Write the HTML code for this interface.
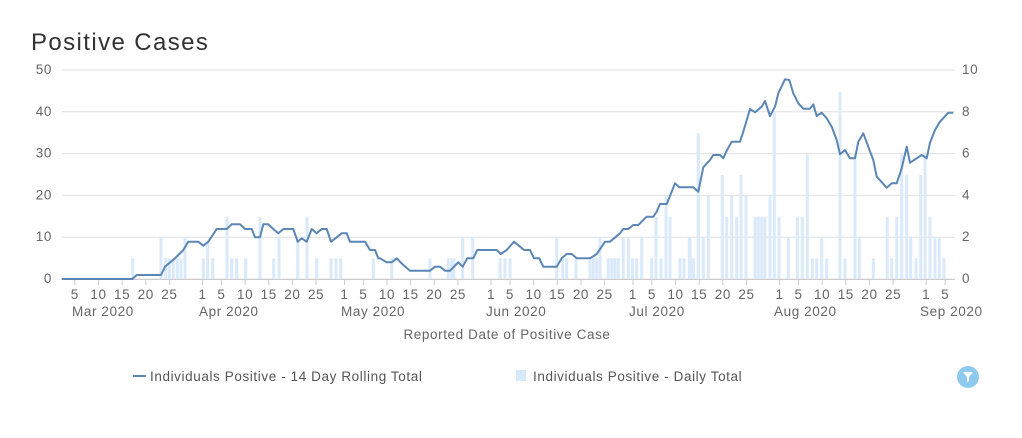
<!DOCTYPE html>
<html><head><meta charset="utf-8"><style>
body{margin:0;background:#fff;width:1022px;height:433px;overflow:hidden;font-family:"Liberation Sans",sans-serif}
svg text{letter-spacing:0.6px}
</style></head><body>
<svg id="s" width="1022" height="433" xmlns="http://www.w3.org/2000/svg" font-family="Liberation Sans, sans-serif">
<text x="31" y="50" font-size="24" fill="#333" style="letter-spacing:1.4px">Positive Cases</text>
</svg>
<script>
const s=document.getElementById('s');let h='';
const X0=62,X1=955;
for(let i=0;i<=5;i++){const y=279-i*41.8;
h+=`<line x1="${X0}" x2="${X1}" y1="${y}" y2="${y}" stroke="#e0e0e0" stroke-width="1"/>`;
h+=`<text x="52" y="${y+4}" font-size="13.5" fill="#666" text-anchor="end">${i*10}</text>`;
h+=`<text x="962" y="${y+4}" font-size="13.5" fill="#666">${i*2}</text>`;}
h+=`<line x1="${X0}" x2="${X1}" y1="279.5" y2="279.5" stroke="#ccc"/>`;
const bars=[[55,60,[[233,595],[318,532],[332,595],[343,595],[355,595],[367,595],[378,595],[390,532],[445,595],[458,545],[473,595],[516,470],[530,595],[545,595],[572,595],[615,470],[656,595],[672,532],[728,545],[756,470],[785,595],[828,595],[843,595],[857,595],[955,595]]],
[380,60,[[35,595],[150,595],[205,595],[215,595],[222,595],[248,532],[278,532],[360,595],[375,595],[390,595],[530,532],[548,595],[560,595],[588,595],[630,595],[640,595],[650,595],[660,532],[685,595],[695,595],[705,595],[715,595],[730,532],[745,532],[757,595],[770,595],[785,532],[815,595],[828,470],[843,595],[858,408],[870,470],[900,595],[912,595],[928,532],[940,595],[955,220]]],
[690,60,[[0,532],[10,595],[25,220],[40,532],[55,408],[97,345],[110,470],[125,408],[140,470],[153,345],[168,408],[195,470],[205,470],[215,470],[225,470],[240,408],[253,157],[267,470],[295,532],[322,470],[337,470],[352,283],[367,595],[380,595],[395,532],[410,595],[450,95],[465,595],[495,283],[508,532],[550,595],[592,470],[605,595],[620,470],[635,283],[650,345],[662,532],[678,595],[692,345],[705,283],[720,470],[735,532],[748,532],[762,595]]]];
for(const [ox,oy,a] of bars)for(const [zx,zy] of a){const x=ox+zx/3,t=oy+zy/3;
h+=`<rect x="${(x-1.5).toFixed(1)}" y="${t.toFixed(1)}" width="3" height="${(279-t).toFixed(1)}" fill="#dbeafa"/>`;}
const L=[[55,60,[[20,657],[232,657],[245,645],[318,645],[330,620],[360,595],[385,570],[400,545],[430,545],[445,557],[460,545],[485,507],[515,507],[530,493],[555,493],[570,507],[590,507],[600,532],[615,532],[625,493],[640,493],[655,507],[670,520],[685,507],[715,507],[728,545],[740,535],[755,545],[770,507],[785,520],[800,507],[815,507],[828,545],[845,532],[860,520],[875,520],[885,545],[930,545],[945,570],[960,570],[970,595]]],
[380,60,[[0,595],[20,607],[35,607],[50,595],[70,615],[90,632],[150,632],[165,620],[180,620],[195,632],[210,632],[235,607],[248,620],[262,595],[280,595],[292,570],[350,570],[362,582],[380,570],[402,545],[432,570],[450,570],[462,595],[478,595],[490,620],[530,620],[545,595],[560,582],[575,582],[590,595],[630,595],[650,582],[665,560],[675,545],[690,545],[720,520],[730,507],[745,507],[760,495],[775,495],[800,470],[820,470],[830,455],[840,432],[860,432],[870,408],[885,370],[898,382],[940,382],[955,395]]],
[690,60,[[25,395],[40,322],[60,300],[70,285],[90,285],[100,295],[110,272],[125,245],[150,245],[160,215],[180,147],[195,157],[215,140],[225,123],[240,168],[255,140],[265,100],[285,58],[298,60],[310,100],[325,130],[340,146],[360,146],[370,133],[380,168],[395,158],[410,175],[425,200],[440,240],[450,283],[465,270],[480,295],[495,295],[505,245],[520,220],[535,260],[550,300],[560,350],[590,383],[605,370],[620,370],[635,325],[650,260],[660,308],[680,295],[695,285],[710,295],[720,248],[735,210],[750,185],[775,158],[790,158]]]];
let pts=[];for(const [ox,oy,a] of L)for(const [zx,zy] of a)pts.push((ox+zx/3).toFixed(1)+','+(oy+zy/3).toFixed(1));
h+=`<polyline points="${pts.join(' ')}" fill="none" stroke="#5b86b5" stroke-width="2" stroke-linejoin="round"/>`;
const xd=d=>55.9+4.73*d;
const ticks=[[4,'5'],[9,'10'],[14,'15'],[19,'20'],[24,'25'],[31,'1'],[35,'5'],[40,'10'],[45,'15'],[50,'20'],[55,'25'],[61,'1'],[65,'5'],[70,'10'],[75,'15'],[80,'20'],[85,'25'],[92,'1'],[96,'5'],[101,'10'],[106,'15'],[111,'20'],[116,'25'],[122,'1'],[126,'5'],[131,'10'],[136,'15'],[141,'20'],[146,'25'],[153,'1'],[157,'5'],[162,'10'],[167,'15'],[172,'20'],[177,'25'],[184,'1'],[188,'5']];
for(const [d,t] of ticks){const x=xd(d);h+=`<line x1="${x}" x2="${x}" y1="280" y2="285" stroke="#ccc"/><text x="${x}" y="299" font-size="13.5" fill="#666" text-anchor="middle">${t}</text>`;}
for(const [x,t] of [[72,'Mar 2020'],[199,'Apr 2020'],[341,'May 2020'],[486,'Jun 2020'],[629,'Jul 2020'],[774,'Aug 2020'],[920,'Sep 2020']])h+=`<text x="${x}" y="316" font-size="13.5" fill="#666">${t}</text>`;
h+=`<text x="507" y="339" font-size="13.5" fill="#666" text-anchor="middle">Reported Date of Positive Case</text>`;
h+=`<line x1="133" x2="146" y1="376" y2="376" stroke="#5b86b5" stroke-width="2"/><text x="150" y="381" font-size="13.5" fill="#555">Individuals Positive - 14 Day Rolling Total</text>`;
h+=`<rect x="516" y="370" width="10" height="11" fill="#d6e9fb"/><text x="533" y="381" font-size="13.5" fill="#555">Individuals Positive - Daily Total</text>`;
h+=`<circle cx="968" cy="377" r="11" fill="#8ec9ee"/><path d="M963 372 h10 l-4 5 v4 l-2 1 v-5 z" fill="#fff"/>`;
s.insertAdjacentHTML('beforeend',h);
</script>
</body></html>
